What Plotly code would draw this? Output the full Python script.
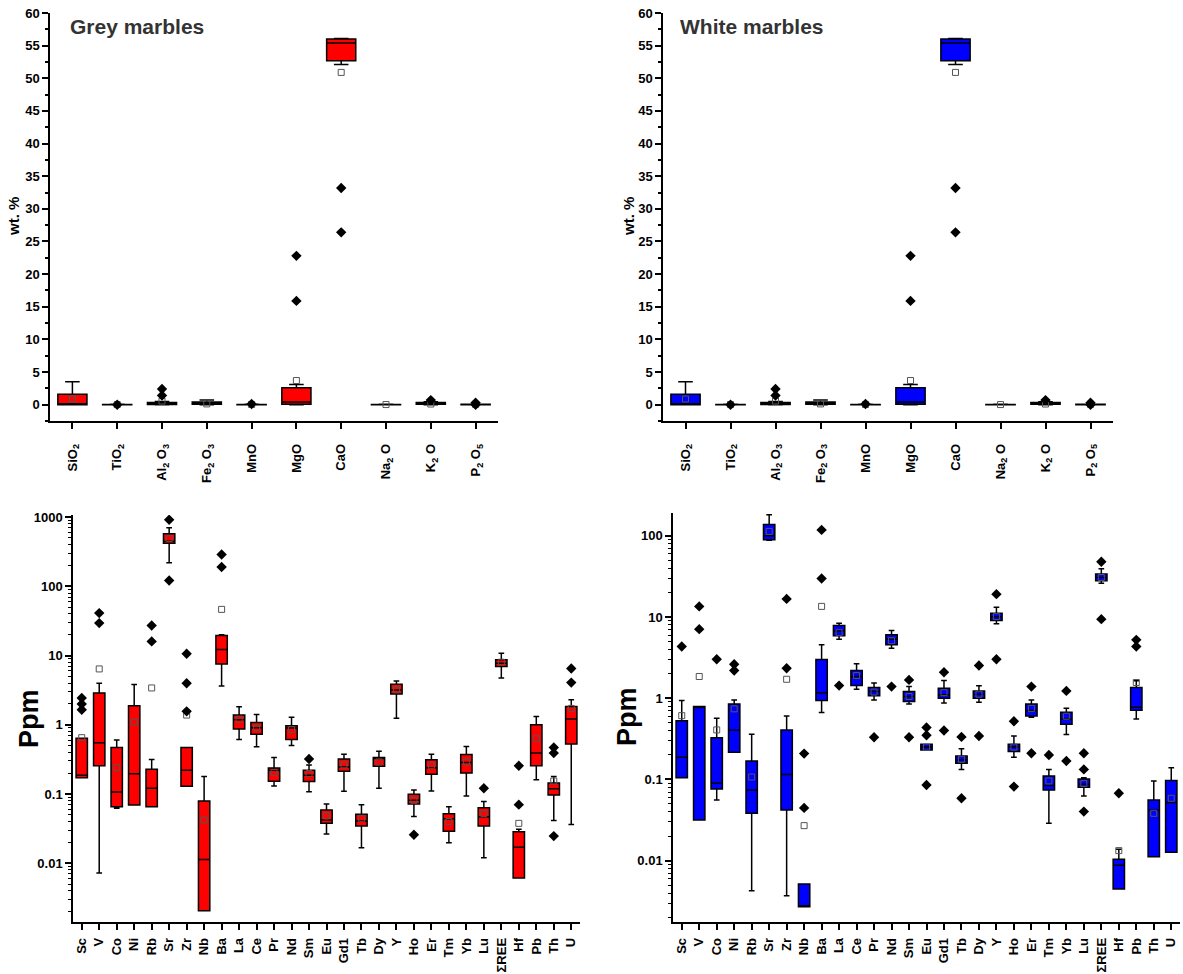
import plotly.graph_objects as go
import numpy as np

# ---------------- Major oxides (same for both marble types) ----------------
ox_cats = ["SiO2", "TiO2", "Al2O3", "Fe2O3", "MnO", "MgO", "CaO", "Na2O", "K2O", "P2O5"]
ox_labels = ["SiO<sub>2</sub>", "TiO<sub>2</sub>", "Al<sub>2</sub> O<sub>3</sub>", "Fe<sub>2</sub> O<sub>3</sub>",
             "MnO", "MgO", "CaO", "Na<sub>2</sub> O", "K<sub>2</sub> O", "P<sub>2</sub> O<sub>5</sub>"]
ox_q1 = [0.0, 0.0, 0.02, 0.05, 0.0, 0.05, 52.7, 0.0, 0.05, 0.0]
ox_med = [0.1, 0.01, 0.15, 0.25, 0.01, 0.4, 55.4, 0.02, 0.2, 0.02]
ox_q3 = [1.6, 0.03, 0.35, 0.4, 0.03, 2.6, 56.0, 0.04, 0.35, 0.05]
ox_lo = [0.0, 0.0, 0.0, 0.0, 0.0, 0.0, 52.1, 0.0, 0.0, 0.0]
ox_hi = [3.5, 0.05, 0.5, 0.7, 0.05, 3.1, 56.1, 0.05, 0.45, 0.08]
ox_mean = [0.87, 0.02, 0.55, 0.12, 0.03, 3.7, 50.9, 0.02, 0.1, 0.05]
ox_out_x = ["TiO2", "Al2O3", "Al2O3", "MnO", "MgO", "MgO", "CaO", "CaO", "K2O", "P2O5", "P2O5"]
ox_out_y = [0.0, 2.4, 1.4, 0.1, 22.8, 15.9, 33.2, 26.4, 0.7, 0.3, 0.0]

# ---------------- Trace elements ----------------
te_cats = ["Sc", "V", "Co", "Ni", "Rb", "Sr", "Zr", "Nb", "Ba", "La", "Ce", "Pr", "Nd", "Sm", "Eu",
           "Gd1", "Tb", "Dy", "Y", "Ho", "Er", "Tm", "Yb", "Lu", "ΣREE", "Hf", "Pb", "Th", "U"]

# Grey marbles
g_q1 = [0.172, 0.255, 0.0655, 0.069, 0.0655, 420, 0.129, 0.00206, 7.57, 0.865, 0.73, 0.153, 0.61, 0.151, 0.0376,
        0.213, 0.0344, 0.252, 2.78, 0.0716, 0.193, 0.0288, 0.2, 0.0344, 6.93, 0.0061, 0.255, 0.0968, 0.525]
g_med = [0.186, 0.548, 0.107, 0.195, 0.121, 449, 0.22, 0.0113, 12.2, 1.18, 0.905, 0.22, 0.9, 0.187, 0.042,
         0.246, 0.0406, 0.329, 3.18, 0.081, 0.24, 0.044, 0.285, 0.047, 7.74, 0.017, 0.389, 0.119, 1.21]
g_q3 = [0.64, 2.88, 0.47, 1.88, 0.228, 573, 0.47, 0.079, 19.5, 1.38, 1.08, 0.238, 0.97, 0.22, 0.0586,
        0.32, 0.0507, 0.336, 3.84, 0.099, 0.311, 0.0519, 0.372, 0.0634, 8.65, 0.0284, 1.0, 0.144, 1.84]
g_lo = [0.172, 0.0072, 0.062, 0.069, 0.0655, 218, 0.129, 0.00206, 3.63, 0.61, 0.48, 0.13, 0.5, 0.108, 0.0263,
        0.109, 0.0167, 0.121, 1.24, 0.0474, 0.11, 0.0197, 0.0935, 0.012, 4.75, 0.0061, 0.16, 0.0415, 0.0363]
g_hi = [0.64, 3.97, 0.6, 3.8, 0.315, 700, 0.47, 0.178, 20.0, 1.82, 1.4, 0.336, 1.28, 0.263, 0.0716,
        0.376, 0.07, 0.415, 4.3, 0.114, 0.376, 0.0655, 0.485, 0.078, 10.8, 0.0308, 1.32, 0.178, 2.3]
g_mean = [0.65, 6.4, 0.24, 1.09, 3.4, 490, 1.38, 0.042, 46.4, 1.2, 0.9, 0.204, 0.85, 0.197, 0.048,
          0.263, 0.0445, 0.29, 3.2, 0.081, 0.26, 0.04, 0.29, 0.052, 8.0, 0.0376, 0.627, 0.154, 1.72]
g_out_x = ["Sc", "Sc", "Sc", "V", "V", "Rb", "Rb", "Sr", "Sr", "Zr", "Zr", "Zr", "Ba", "Ba",
           "Sm", "Ho", "Lu", "Hf", "Hf", "Th", "Th", "Th", "U", "U"]
g_out_y = [2.43, 1.99, 1.65, 41, 29.4, 27.2, 16, 915, 121, 10.6, 3.97, 1.56, 288, 190,
           0.32, 0.0257, 0.121, 0.255, 0.07, 0.47, 0.389, 0.0246, 6.48, 4.06]

# White marbles
w_q1 = [0.105, 0.0317, 0.0764, 0.216, 0.0383, 89.3, 0.042, 0.00271, 0.935, 5.86, 1.43, 1.07, 4.54, 0.91, 0.231,
        1.0, 0.158, 1.0, 9.06, 0.22, 0.606, 0.0743, 0.478, 0.08, 27.9, 0.00448, 0.711, 0.0112, 0.0127]
w_med = [0.1875, 0.79, 0.0897, 0.403, 0.0743, 100, 0.115, 0.00271, 1.17, 6.75, 1.85, 1.21, 5.33, 1.05, 0.25,
         1.1, 0.174, 1.12, 10.1, 0.25, 0.705, 0.084, 0.556, 0.0873, 30.6, 0.00877, 0.775, 0.042, 0.0519]
w_q3 = [0.526, 0.79, 0.327, 0.851, 0.169, 138, 0.407, 0.00516, 2.99, 7.86, 2.19, 1.35, 6.03, 1.21, 0.271,
        1.33, 0.195, 1.23, 11.1, 0.271, 0.851, 0.11, 0.672, 0.101, 33.7, 0.0104, 1.35, 0.0559, 0.0968]
w_lo = [0.105, 0.0317, 0.0559, 0.216, 0.00427, 88, 0.0037, 0.00271, 0.666, 5.33, 1.29, 0.953, 4.13, 0.85, 0.231,
        0.876, 0.133, 0.89, 8.24, 0.1875, 0.583, 0.0288, 0.357, 0.0626, 26.1, 0.00448, 0.556, 0.0112, 0.0127]
w_hi = [0.94, 0.79, 0.567, 0.953, 0.36, 181, 0.606, 0.00516, 4.54, 8.4, 2.65, 1.54, 6.82, 1.39, 0.271,
        1.65, 0.238, 1.42, 13.2, 0.343, 0.953, 0.133, 0.75, 0.105, 39.2, 0.0138, 1.64, 0.096, 0.139]
w_mean = [0.61, 1.85, 0.407, 0.74, 0.107, 113, 1.71, 0.027, 13.5, 6.4, 1.9, 1.19, 5.1, 1.05, 0.25,
          1.17, 0.177, 1.12, 10.1, 0.25, 0.75, 0.096, 0.6, 0.089, 30.6, 0.0133, 1.56, 0.0383, 0.0586]
w_out_x = ["Sc", "V", "V", "Co", "Ni", "Ni", "Zr", "Zr", "Nb", "Nb", "Ba", "Ba", "La", "Pr", "Nd",
           "Sm", "Sm", "Eu", "Eu", "Eu", "Gd1", "Gd1", "Tb", "Tb", "Dy", "Dy", "Y", "Y", "Ho", "Ho",
           "Er", "Er", "Tm", "Yb", "Yb", "Lu", "Lu", "Lu", "ΣREE", "ΣREE", "Hf", "Pb", "Pb"]
w_out_y = [4.33, 13.5, 7.08, 3.02, 2.62, 2.19, 16.7, 2.34, 0.208, 0.0446, 118, 29.8, 1.43, 0.331, 1.39,
           1.68, 0.331, 0.435, 0.35, 0.0855, 2.09, 0.4, 0.334, 0.0586, 2.53, 0.343, 19.1, 3.02, 0.52, 0.0816,
           1.39, 0.21, 0.2, 1.23, 0.169, 0.21, 0.133, 0.0402, 47.9, 9.4, 0.0675, 5.23, 4.33]

FONT = "Liberation Sans, Arial, sans-serif"
W, H = 1183, 974

fig = go.Figure()


def add_panel(xa, ya, cats, q1, med, q3, lo, hi, mean, ox, oy, fill, bw):
    fig.add_trace(go.Box(x=cats, q1=q1, median=med, q3=q3, lowerfence=lo, upperfence=hi,
                         fillcolor=fill, line=dict(color="black", width=1.5), width=bw,
                         whiskerwidth=0.5, boxpoints=False, showlegend=False,
                         xaxis=xa, yaxis=ya, hoverinfo="skip"))
    fig.add_trace(go.Scatter(x=cats, y=mean, mode="markers", showlegend=False, xaxis=xa, yaxis=ya,
                             marker=dict(symbol="square-open", size=6, color="#555",
                                         line=dict(width=1, color="#555"))))
    fig.add_trace(go.Scatter(x=ox, y=oy, mode="markers", showlegend=False, xaxis=xa, yaxis=ya,
                             marker=dict(symbol="diamond", size=8, color="black")))


add_panel("x", "y", ox_cats, ox_q1, ox_med, ox_q3, ox_lo, ox_hi, ox_mean, ox_out_x, ox_out_y, "#ff0000", 0.65)
add_panel("x2", "y2", ox_cats, ox_q1, ox_med, ox_q3, ox_lo, ox_hi, ox_mean, ox_out_x, ox_out_y, "#0000ff", 0.65)
add_panel("x3", "y3", te_cats, g_q1, g_med, g_q3, g_lo, g_hi, g_mean, g_out_x, g_out_y, "#ff0000", 0.65)
add_panel("x4", "y4", te_cats, w_q1, w_med, w_q3, w_lo, w_hi, w_mean, w_out_x, w_out_y, "#0000ff", 0.65)

tickfont = dict(family=FONT, size=13, color="black", weight="bold")
axcommon = dict(showline=True, linecolor="black", linewidth=1.5, ticks="outside", tickwidth=1.5,
                tickcolor="black", ticklen=6, showgrid=False, zeroline=False, tickfont=tickfont,
                automargin=False)


def px_x(a, b):
    return [a / W, b / W]


def px_y(top, bottom):
    return [1 - bottom / H, 1 - top / H]


xox = dict(axcommon, type="category", categoryorder="array", categoryarray=ox_cats,
           tickmode="array", tickvals=ox_cats, ticktext=ox_labels, tickangle=-90, range=[-0.5, 9.5],
           ticklabelstandoff=10)
yox = dict(axcommon, range=[-2.5, 60], dtick=5, tick0=0,
           minor=dict(ticks="outside", ticklen=3, tickwidth=1.5, tickcolor="black", dtick=2.5, tick0=0))

minor_vals = [m * 10.0 ** e for e in range(-4, 4) for m in range(2, 10)]
xte = dict(axcommon, type="category", categoryorder="array", categoryarray=te_cats,
           tickangle=-90, range=[-0.5, 28.5], ticklabelstandoff=3)
ylog = dict(axcommon, type="log", tickmode="array",
            tickvals=[0.01, 0.1, 1, 10, 100, 1000], ticktext=["0.01", "0.1", "1", "10", "100", "1000"],
            minor=dict(ticks="outside", ticklen=3, tickwidth=1, tickcolor="black",
                       tickmode="array", tickvals=minor_vals))

fig.update_layout(
    template="none",
    width=W, height=H, margin=dict(l=0, r=0, t=0, b=0, autoexpand=False),
    paper_bgcolor="white", plot_bgcolor="white", showlegend=False,
    xaxis=dict(xox, domain=px_x(50, 498), anchor="y"),
    yaxis=dict(yox, domain=px_y(13, 421), anchor="x"),
    xaxis2=dict(xox, domain=px_x(663, 1113), anchor="y2"),
    yaxis2=dict(yox, domain=px_y(13, 421), anchor="x2"),
    xaxis3=dict(xte, domain=px_x(73, 580), anchor="y3"),
    yaxis3=dict(ylog, domain=px_y(515, 922), anchor="x3", range=[-2.85, 3.03]),
    xaxis4=dict(xte, domain=px_x(673, 1180), anchor="y4"),
    yaxis4=dict(ylog, domain=px_y(513, 922), anchor="x4", range=[-2.755, 2.28]),
)

ann = [
    dict(text="Grey marbles", x=68 / W, y=1 - 26 / H, xanchor="left", yanchor="middle",
         font=dict(family=FONT, size=21, color="#333", weight="bold")),
    dict(text="White marbles", x=678 / W, y=1 - 26 / H, xanchor="left", yanchor="middle",
         font=dict(family=FONT, size=21, color="#333", weight="bold")),
    dict(text="wt. %", x=13 / W, y=1 - 217 / H, textangle=-90, xanchor="center", yanchor="middle",
         font=dict(family=FONT, size=15, color="black", weight="bold")),
    dict(text="wt. %", x=628 / W, y=1 - 217 / H, textangle=-90, xanchor="center", yanchor="middle",
         font=dict(family=FONT, size=15, color="black", weight="bold")),
    dict(text="Ppm", x=29 / W, y=1 - 718 / H, textangle=-90, xanchor="center", yanchor="middle",
         font=dict(family=FONT, size=27, color="black", weight="bold")),
    dict(text="Ppm", x=627 / W, y=1 - 717 / H, textangle=-90, xanchor="center", yanchor="middle",
         font=dict(family=FONT, size=27, color="black", weight="bold")),
]
for a in ann:
    fig.add_annotation(xref="paper", yref="paper", showarrow=False, **a)

fig.write_html("out.html")
